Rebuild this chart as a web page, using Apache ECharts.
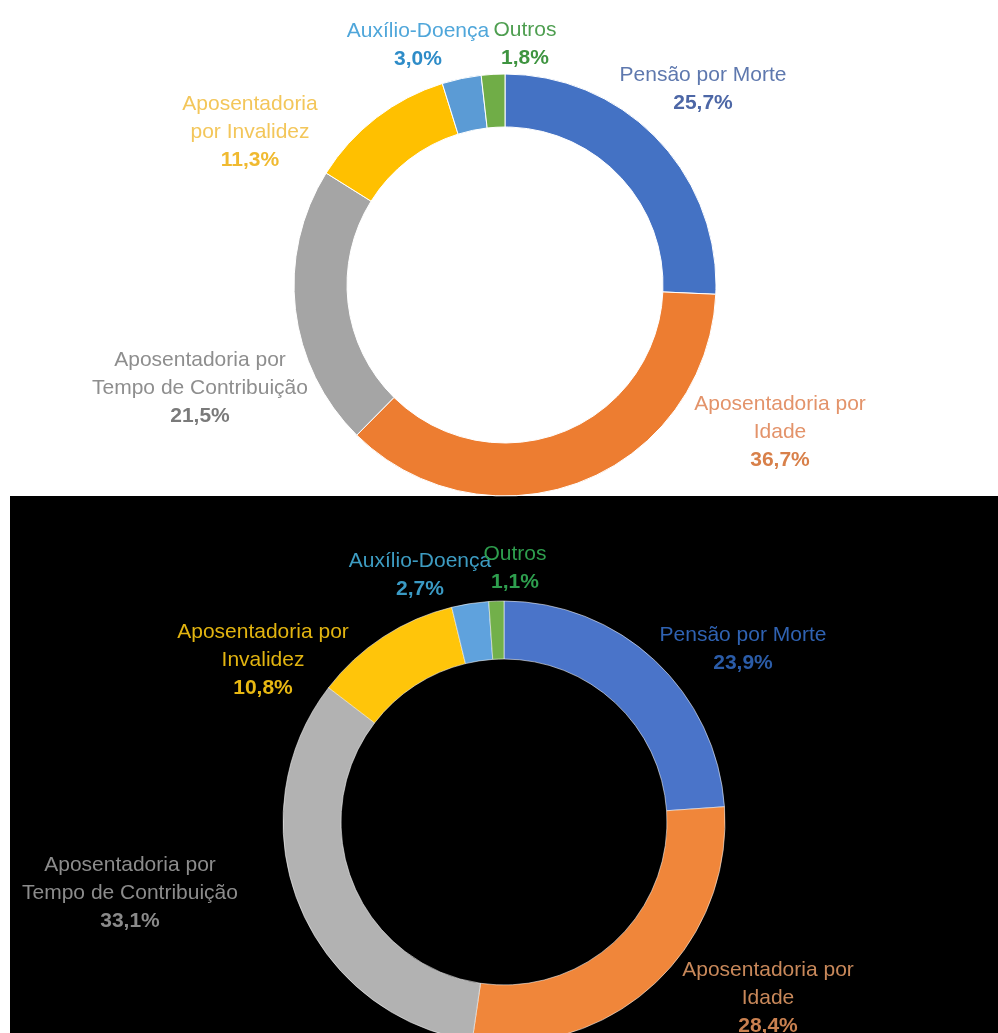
<!DOCTYPE html>
<html>
<head>
<meta charset="utf-8">
<script src="https://cdn.jsdelivr.net/npm/echarts@6/dist/echarts.min.js"></script>
<style>
html,body{margin:0;padding:0;background:#fff;width:998px;height:1033px;overflow:hidden;}
#bg{position:absolute;left:10px;top:496px;width:988px;height:537px;background:#000;}
#chart{position:absolute;left:0;top:0;width:998px;height:1033px;}
</style>
</head>
<body>
<div id="bg"></div>
<div id="chart"></div>
<script>
// Categories (clockwise from 12 o'clock)
var categories = ['Pensão por Morte', 'Aposentadoria por Idade', 'Aposentadoria por Tempo de Contribuição', 'Aposentadoria por Invalidez', 'Auxílio-Doença', 'Outros'];
// Label texts (line breaks as in the picture)
var labelsTop = ['Pensão por Morte', 'Aposentadoria por\nIdade', 'Aposentadoria por\nTempo de Contribuição', 'Aposentadoria\npor Invalidez', 'Auxílio-Doença', 'Outros'];
var labelsBottom = ['Pensão por Morte', 'Aposentadoria por\nIdade', 'Aposentadoria por\nTempo de Contribuição', 'Aposentadoria por\nInvalidez', 'Auxílio-Doença', 'Outros'];
// Shares (%)
var valuesTop = [25.7, 36.7, 21.5, 11.3, 3.0, 1.8];
var valuesBottom = [23.9, 28.4, 33.1, 10.8, 2.7, 1.1];

// styling
var sliceColorsTop = ['#4472C4', '#ED7D31', '#A5A5A5', '#FFC000', '#5B9BD5', '#70AD47'];
var sliceColorsBottom = ['#4A74C9', '#F0863A', '#B2B2B2', '#FFC50A', '#5FA2DD', '#72B04A'];
var nameColorsTop = ['#5E78AE', '#E3936A', '#8E8E8E', '#F3C65A', '#4FA6DA', '#4E9E50'];
var pctColorsTop = ['#4D67A6', '#D8804A', '#7A7A7A', '#F0BA30', '#2E8CC8', '#3E9440'];
var nameColorsBottom = ['#2F62B2', '#C8885A', '#8C8C8C', '#E2B410', '#3D9CC2', '#2E9E4E'];
var pctColorsBottom = ['#2B5CA8', '#C98050', '#8A8A8A', '#E8B812', '#3A9AC4', '#2E9E4E'];
var labelPosTop = [[703, 89], [780, 432], [200, 388], [250, 132], [418, 45], [525, 44]];
var labelPosBottom = [[743, 649], [768, 998], [130, 893], [263, 660], [420, 575], [515, 568]];

function fmt(v) { return v.toFixed(1).replace('.', ',') + '%'; }

function buildData(values, labels, sliceColors, nameColors, pctColors, bold) {
  return values.map(function (v, i) {
    return {
      name: categories[i],
      value: v,
      itemStyle: { color: sliceColors[i] },
      label: {
        formatter: function () {
          var lines = labels[i].split('\n').map(function (l) { return '{n|' + l + '}'; });
          lines.push('{p|' + fmt(v) + '}');
          return lines.join('\n');
        },
        rich: {
          n: { color: nameColors[i], fontSize: 21, lineHeight: 28, fontFamily: 'Liberation Sans, Arial, sans-serif', fontWeight: bold ? 'normal' : 'normal' },
          p: { color: pctColors[i], fontSize: 21, lineHeight: 28, fontFamily: 'Liberation Sans, Arial, sans-serif', fontWeight: 'bold' }
        }
      }
    };
  });
}

function layoutFor(pos) {
  return function (params) {
    var p = pos[params.dataIndex];
    return { x: p[0], y: p[1], align: 'center', verticalAlign: 'middle' };
  };
}

var chart = echarts.init(document.getElementById('chart'), null, { renderer: 'canvas' });
chart.setOption({
  backgroundColor: 'transparent',
  animation: false,
  series: [
    {
      type: 'pie',
      center: [505, 285],
      radius: [158, 211],
      startAngle: 90,
      clockwise: true,
      avoidLabelOverlap: false,
      itemStyle: { borderColor: '#ffffff', borderWidth: 1 },
      label: { show: true, position: 'outside', align: 'center' },
      labelLine: { show: false },
      labelLayout: layoutFor(labelPosTop),
      emphasis: { disabled: true },
      data: buildData(valuesTop, labelsTop, sliceColorsTop, nameColorsTop, pctColorsTop, false)
    },
    {
      type: 'pie',
      center: [504, 822],
      radius: [163, 221],
      startAngle: 90,
      clockwise: true,
      avoidLabelOverlap: false,
      itemStyle: { borderColor: 'rgba(255,255,255,0.55)', borderWidth: 1 },
      label: { show: true, position: 'outside', align: 'center' },
      labelLine: { show: false },
      labelLayout: layoutFor(labelPosBottom),
      emphasis: { disabled: true },
      data: buildData(valuesBottom, labelsBottom, sliceColorsBottom, nameColorsBottom, pctColorsBottom, true)
    }
  ]
});
</script>
</body>
</html>
